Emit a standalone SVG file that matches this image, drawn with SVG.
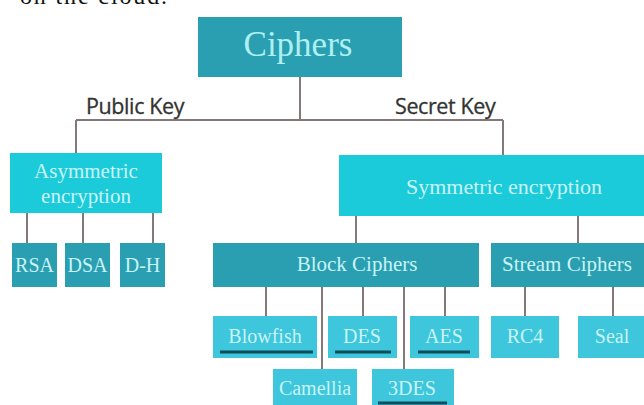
<svg xmlns="http://www.w3.org/2000/svg" width="644" height="405" viewBox="0 0 644 405">
<style>
.dark{fill:#2a9fb1}
.bright{fill:#1ccbd9}
.light{fill:#3ec6dc}
.t{font-family:"Liberation Serif",serif;fill:#c9f3f6;text-anchor:middle}
.s{font-size:20px}
.lbl{font-family:"Open Sans","Liberation Sans",sans-serif;font-size:21.5px;fill:#333333;letter-spacing:-0.4px;stroke:#333333;stroke-width:0.3}
.c{stroke:#857878;stroke-width:2;fill:none}
.u{stroke:#0f4d5a;stroke-width:3}
</style>
<rect width="644" height="405" fill="#ffffff"/>
<text x="20" y="4" font-family="Liberation Serif,serif" font-size="24" fill="#111" textLength="147">on the cloud.</text>
<g id="connectors">
<path class="c" d="M300 77V120M76 120H503M76 120V153M503 120V155"/>
<path class="c" d="M27 213V243M83 213V243M153 213V243"/>
<path class="c" d="M356 216V243M578 216V243"/>
<path class="c" d="M266 287V316M322 287V369M363 287V316M404 287V369M445 287V316"/>
<path class="c" d="M525 287V316M613 287V316"/>
</g>
<text class="lbl" x="86" y="114">Public Key</text>
<text class="lbl" x="395" y="114">Secret Key</text>
<g id="ciphers"><rect class="dark" x="198" y="17" width="204" height="60"/><text class="t" x="298" y="56" font-size="35" style="fill:#aef0f2">Ciphers</text></g>
<g id="asym"><rect class="bright" x="10" y="153" width="152" height="60"/><text class="t" x="86" y="178" font-size="21">Asymmetric</text><text class="t" x="86" y="203" font-size="21">encryption</text></g>
<g id="rsa"><rect class="dark" x="12" y="243" width="45" height="44"/><text class="t s" x="34.5" y="272">RSA</text></g>
<g id="dsa"><rect class="dark" x="65" y="243" width="45" height="44"/><text class="t s" x="87.5" y="272">DSA</text></g>
<g id="dh"><rect class="dark" x="120" y="243" width="45" height="44"/><text class="t s" x="142.5" y="272">D-H</text></g>
<g id="sym"><rect class="bright" x="339" y="155" width="305" height="61"/><text class="t" x="504" y="194" font-size="22">Symmetric encryption</text></g>
<g id="block"><rect class="dark" x="213" y="243" width="266" height="44"/><text class="t" x="357" y="271" font-size="21">Block Ciphers</text></g>
<g id="stream"><rect class="dark" x="491" y="243" width="153" height="44"/><text class="t" x="567" y="271" font-size="21">Stream Ciphers</text></g>
<g id="blowfish"><rect class="light" x="213" y="316" width="104" height="42"/><text class="t s" x="265" y="343">Blowfish</text><line class="u" x1="220" y1="352" x2="313" y2="352"/></g>
<g id="des"><rect class="light" x="328" y="316" width="69" height="42"/><text class="t s" x="362" y="343">DES</text><line class="u" x1="335" y1="352" x2="391" y2="352"/></g>
<g id="aes"><rect class="light" x="410" y="316" width="69" height="42"/><text class="t s" x="444" y="343">AES</text><line class="u" x1="418" y1="352" x2="470" y2="352"/></g>
<g id="rc4"><rect class="light" x="491" y="316" width="68" height="42"/><text class="t s" x="525" y="343">RC4</text></g>
<g id="seal"><rect class="light" x="578" y="316" width="66" height="42"/><text class="t s" x="612" y="343">Seal</text></g>
<g id="camellia"><rect class="light" x="273" y="369" width="84" height="36"/><text class="t s" x="315" y="395">Camellia</text></g>
<g id="tdes"><rect class="light" x="372" y="369" width="82" height="36"/><text class="t s" x="412" y="395">3DES</text><line class="u" x1="378" y1="403" x2="447" y2="403"/></g>
</svg>
